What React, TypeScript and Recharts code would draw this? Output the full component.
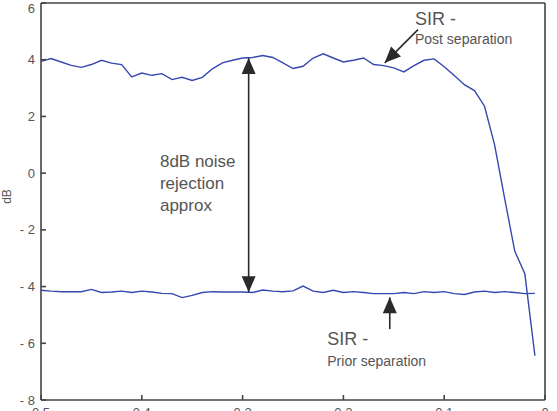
import React from 'react';
import { LineChart, Line, XAxis, YAxis, ReferenceLine, ReferenceDot } from 'recharts';

const xValues = [
  0.5, 0.49, 0.48, 0.47, 0.46, 0.45, 0.44, 0.43, 0.42, 0.41,
  0.4, 0.39, 0.38, 0.37, 0.36, 0.35, 0.34, 0.33, 0.32, 0.31,
  0.3, 0.29, 0.28, 0.27, 0.26, 0.25, 0.24, 0.23, 0.22, 0.21,
  0.2, 0.19, 0.18, 0.17, 0.16, 0.15, 0.14, 0.13, 0.12, 0.11,
  0.1, 0.09, 0.08, 0.07, 0.06, 0.05, 0.04, 0.03, 0.02, 0.01,
];

const postSeparation = [
  3.94, 4.04, 3.92, 3.8, 3.73, 3.83, 3.98, 3.88, 3.83, 3.39,
  3.53, 3.45, 3.51, 3.3, 3.38, 3.27, 3.38, 3.68, 3.89, 3.98,
  4.06, 4.08, 4.15, 4.08, 3.89, 3.69, 3.77, 4.06, 4.21, 4.06,
  3.92, 3.98, 4.06, 3.83, 3.79, 3.71, 3.57, 3.79, 3.98, 4.03,
  3.75, 3.44, 3.12, 2.91, 2.36, 1.0, -0.9, -2.75, -3.55, -6.44,
];

const priorSeparation = [
  -4.13, -4.16, -4.18, -4.18, -4.18, -4.1, -4.21, -4.19, -4.16, -4.21,
  -4.16, -4.19, -4.24, -4.25, -4.39, -4.31, -4.21, -4.18, -4.19, -4.19,
  -4.19, -4.21, -4.12, -4.16, -4.18, -4.15, -3.98, -4.16, -4.21, -4.13,
  -4.21, -4.18, -4.21, -4.25, -4.25, -4.25, -4.21, -4.25, -4.18, -4.21,
  -4.18, -4.25, -4.28, -4.19, -4.16, -4.21, -4.18, -4.21, -4.25, -4.24,
];

const xTicks = [0, 0.1, 0.2, 0.3, 0.4, 0.5];
const yTicks = [-8, -6, -4, -2, 0, 2, 4, 6];

const noiseText = ['8dB noise', 'rejection', 'approx'];
const postText = ['SIR -', 'Post separation'];
const priorText = ['SIR -', 'Prior separation'];

const data = xValues.map((x, i) => ({ x, post: postSeparation[i], prior: priorSeparation[i] }));

const FONT = '"Liberation Sans", Arial, Helvetica, sans-serif';
const TEXT = '#555555';
const AXIS = '#444444';
const LINE = '#3548b0';
const ARROW = '#2a2a2a';

const fmtY = (v: number) => (v < 0 ? `- ${-v}` : `${v}`);
const fmtX = (v: number) => `${v}`;

function arrowHead(tx: number, ty: number, fx: number, fy: number, len: number, half: number) {
  const dx = tx - fx;
  const dy = ty - fy;
  const d = Math.sqrt(dx * dx + dy * dy) || 1;
  const ux = dx / d;
  const uy = dy / d;
  const bx = tx - ux * len;
  const by = ty - uy * len;
  const px = -uy;
  const py = ux;
  return `${tx},${ty} ${bx + px * half},${by + py * half} ${bx - px * half},${by - py * half}`;
}

const makeArrow = (both: boolean) => (props: any) => {
  const { x1, y1, x2, y2 } = props;
  return (
    <g>
      <line x1={x1} y1={y1} x2={x2} y2={y2} stroke={ARROW} strokeWidth={1.6} />
      <polygon points={arrowHead(x2, y2, x1, y1, 16, 7)} fill={ARROW} />
      {both && <polygon points={arrowHead(x1, y1, x2, y2, 16, 7)} fill={ARROW} />}
    </g>
  );
};

const makeTextBlock = (lines: string[], sizes: number[], gaps: number[]) => (props: any) => {
  const { cx, cy } = props;
  let off = 0;
  return (
    <g>
      {lines.map((t, i) => {
        if (i > 0) off += gaps[i - 1];
        return (
          <text
            key={i}
            x={cx}
            y={cy + off}
            fill={TEXT}
            fontSize={sizes[i]}
            fontFamily={FONT}
            dominantBaseline="central"
            textAnchor="start"
          >
            {t}
          </text>
        );
      })}
    </g>
  );
};

const YLabel = (props: any) => {
  const vb = props.viewBox || { x: 0, y: 0, width: 41, height: 400 };
  const cx = vb.x + 7;
  const cy = vb.y + vb.height / 2 - 5;
  return (
    <text
      x={cx}
      y={cy}
      transform={`rotate(-90, ${cx}, ${cy})`}
      textAnchor="middle"
      dominantBaseline="central"
      fill={TEXT}
      fontSize={12}
      fontFamily={FONT}
    >
      dB
    </text>
  );
};

export default function App() {
  return (
    <div style={{ position: 'absolute', left: 0, top: 0, background: '#fff' }}>
      <LineChart width={557} height={440} data={data} margin={{ top: 2, right: 0, bottom: 10, left: 0 }}>
        <XAxis
          dataKey="x"
          type="number"
          domain={[0, 0.5]}
          reversed
          ticks={xTicks}
          tickFormatter={fmtX}
          tickSize={-5}
          tickMargin={13}
          height={30}
          stroke={AXIS}
          strokeWidth={1.6}
          tick={{ fill: TEXT, fontSize: 13, fontFamily: FONT }}
          allowDataOverflow
        />
        <XAxis
          xAxisId="top"
          orientation="top"
          dataKey="x"
          type="number"
          domain={[0, 0.5]}
          reversed
          ticks={xTicks}
          tick={false}
          tickSize={-5}
          height={1}
          stroke={AXIS}
          strokeWidth={1.6}
          allowDataOverflow
        />
        <YAxis
          type="number"
          domain={[-8, 6]}
          ticks={yTicks}
          tickFormatter={fmtY}
          tickSize={-5}
          tickMargin={11}
          width={41}
          stroke={AXIS}
          strokeWidth={1.6}
          tick={{ fill: TEXT, fontSize: 13, fontFamily: FONT }}
          label={<YLabel />}
          allowDataOverflow
        />
        <YAxis
          yAxisId="right"
          orientation="right"
          type="number"
          domain={[-8, 6]}
          ticks={yTicks}
          tick={false}
          tickSize={-5}
          width={12}
          stroke={AXIS}
          strokeWidth={1.6}
          allowDataOverflow
        />
        <Line
          type="linear"
          dataKey="post"
          stroke={LINE}
          strokeWidth={1.4}
          dot={false}
          isAnimationActive={false}
        />
        <Line
          type="linear"
          dataKey="prior"
          xAxisId="top"
          yAxisId="right"
          stroke={LINE}
          strokeWidth={1.4}
          dot={false}
          isAnimationActive={false}
        />
        <ReferenceLine
          segment={[{ x: 0.294, y: -4.2 }, { x: 0.294, y: 4.06 }]}
          shape={makeArrow(true)}
        />
        <ReferenceLine
          segment={[{ x: 0.126, y: 5.06 }, { x: 0.159, y: 3.89 }]}
          shape={makeArrow(false)}
        />
        <ReferenceLine
          segment={[{ x: 0.154, y: -5.5 }, { x: 0.154, y: -4.38 }]}
          shape={makeArrow(false)}
        />
        <ReferenceDot x={0.382} y={0.41} r={0} shape={makeTextBlock(noiseText, [17, 17, 17], [22, 22])} />
        <ReferenceDot x={0.129} y={5.43} r={0} shape={makeTextBlock(postText, [18, 14], [20])} />
        <ReferenceDot x={0.216} y={-5.86} r={0} shape={makeTextBlock(priorText, [18, 14], [21.5])} />
      </LineChart>
    </div>
  );
}
